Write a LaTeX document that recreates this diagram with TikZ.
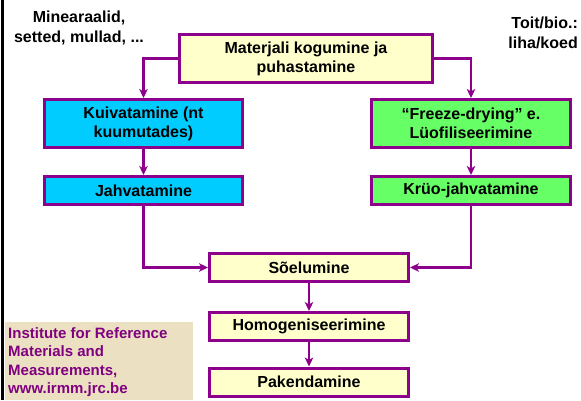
\documentclass[tikz,border=0pt]{standalone}
\usepackage{fontspec}
\setmainfont{Liberation Sans}
\usetikzlibrary{arrows.meta}
\definecolor{pborder}{RGB}{140,0,140}
\definecolor{ptext}{RGB}{128,0,128}
\definecolor{lyellow}{RGB}{255,255,204}
\definecolor{lcyan}{RGB}{0,204,255}
\definecolor{lgreen}{RGB}{102,255,102}
\definecolor{parch}{RGB}{236,224,194}
\tikzset{
  box/.style={draw=pborder, line width=3pt, align=center, inner sep=0pt,
    font=\fontsize{16}{19}\selectfont\bfseries, text=black},
  conn/.style={draw=pborder, line width=2.1pt, -{Stealth[length=9pt,width=8.5pt,inset=2.5pt]}},
  lbl/.style={font=\fontsize{16}{20}\selectfont\bfseries, inner sep=0pt}
}
\begin{document}
\begin{tikzpicture}[x=1pt,y=-1pt]
\useasboundingbox (0,0) rectangle (581,400);
\fill[white] (0,0) rectangle (581,400);
\draw[black, line width=2.5pt] (2.7,0) -- (2.7,400);
\fill[parch] (5,322) rectangle (193,400);
\node[lbl, text=ptext, font=\fontsize{15}{18.5}\selectfont\bfseries, align=left, anchor=north west] (inst) at (8,327) {Institute for Reference\\Materials and\\Measurements,\\www.irmm.jrc.be};
\node[lbl, align=center] (mine) at (79,28) {Minearaalid,\\setted, mullad, ...};
\node[lbl, align=right, anchor=east] (toit) at (578,33) {Toit/bio.:\\liha/koed};

\node[box, fill=lyellow, minimum width=253pt, minimum height=48pt] (top) at (306,58.5) {Materjali kogumine ja\\puhastamine};
\node[box, fill=lcyan, minimum width=198pt, minimum height=48pt] (kuiv) at (143.5,123.5) {Kuivatamine (nt\\kuumutades)};
\node[box, fill=lcyan, minimum width=198pt, minimum height=28pt] (jahv) at (143.5,190.5) {Jahvatamine};
\node[box, fill=lgreen, minimum width=199pt, minimum height=48pt] (freeze) at (471,123.5) {``Freeze-drying'' e.\\Lüofiliseerimine};
\node[box, fill=lgreen, minimum width=199pt, minimum height=28pt] (kryo) at (471,190.5) {Krüo-jahvatamine};
\node[box, fill=lyellow, minimum width=199pt, minimum height=28pt] (soel) at (309,267.5) {Sõelumine};
\node[box, fill=lyellow, minimum width=199pt, minimum height=28pt] (homo) at (309,326.5) {Homogeniseerimine};
\node[box, fill=lyellow, minimum width=199pt, minimum height=28pt] (pak) at (309,382) {Pakendamine};

\draw[conn] (top.west) -| (kuiv.north);
\draw[conn] (top.east) -| (freeze.north);
\draw[conn] (kuiv.south) -- (jahv.north);
\draw[conn] (freeze.south) -- (kryo.north);
\draw[conn] (jahv.south) |- (soel.west);
\draw[conn] (kryo.south) |- (soel.east);
\draw[conn] (soel.south) -- (homo.north);
\draw[conn] (homo.south) -- (pak.north);
\end{tikzpicture}
\end{document}
